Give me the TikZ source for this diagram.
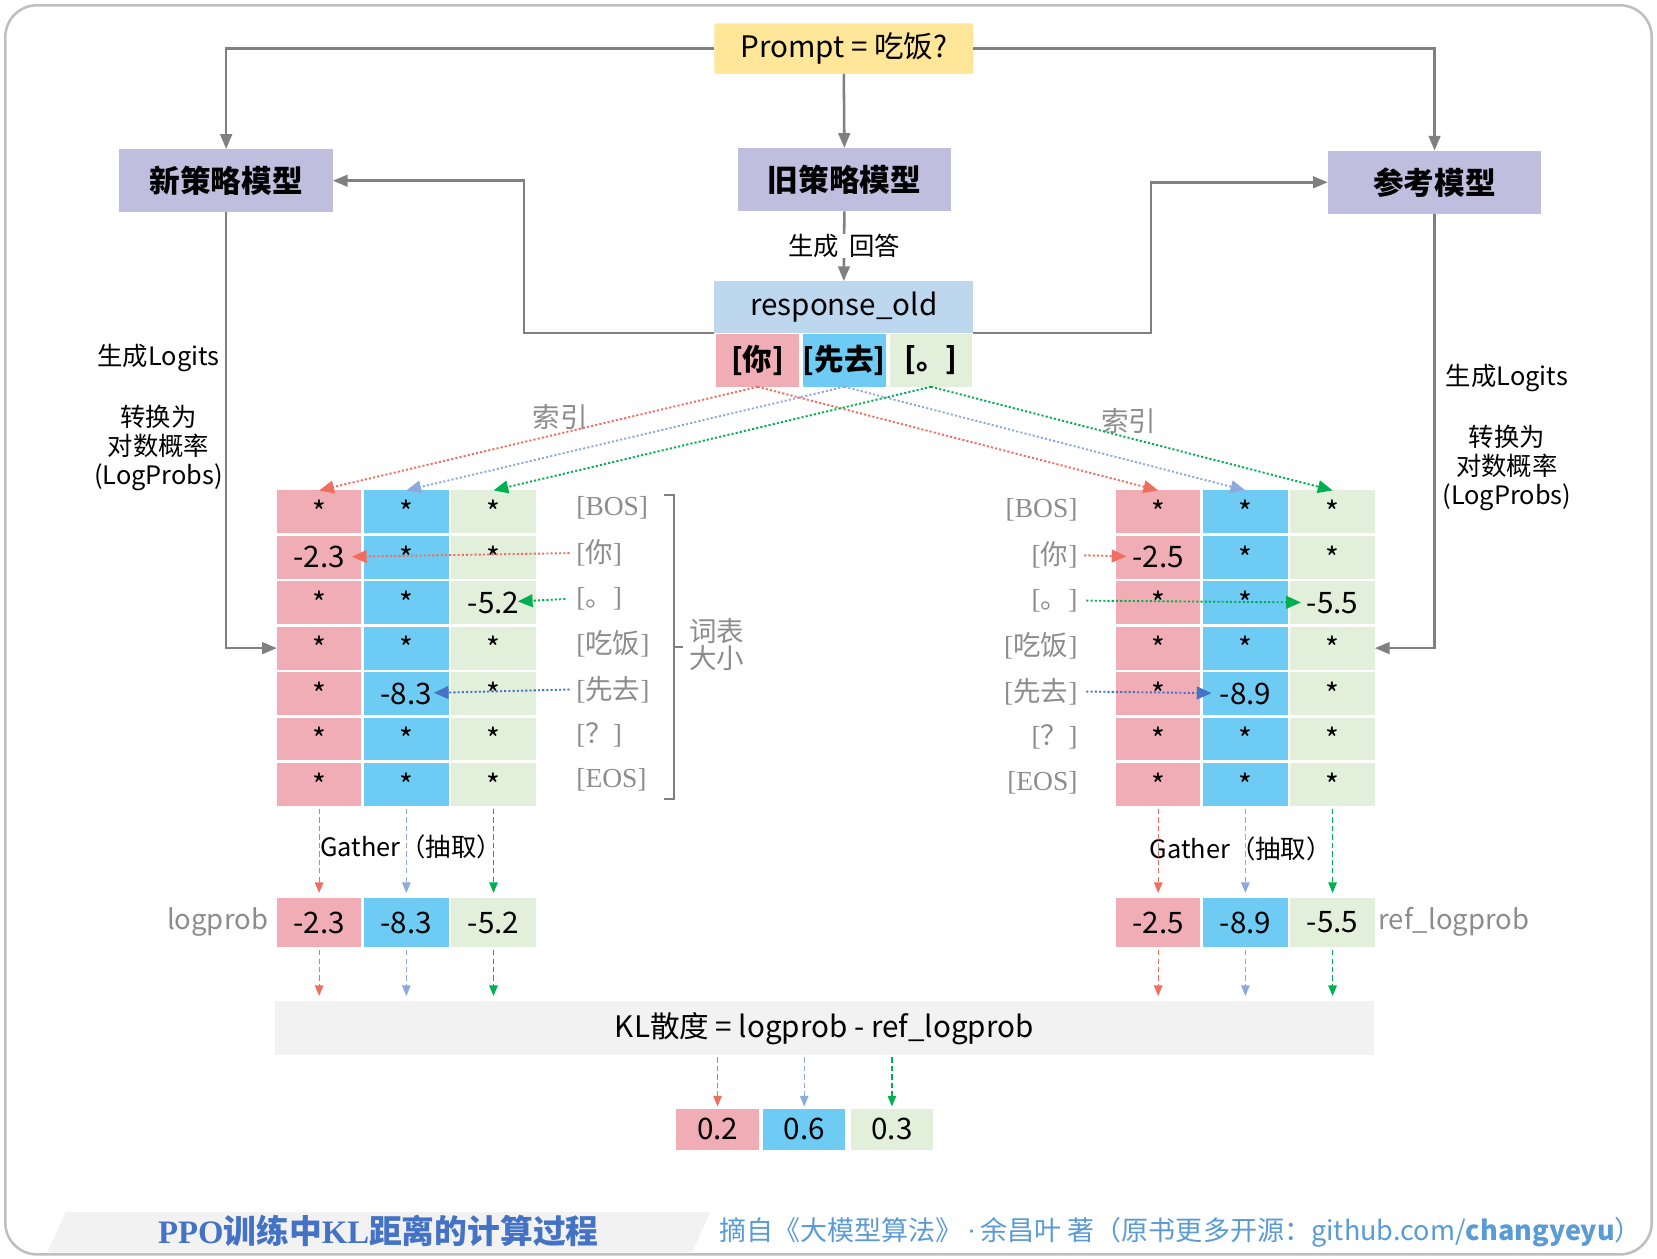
\documentclass[tikz,border=0pt]{standalone}
\usepackage{fontspec}
\setmainfont{Noto Sans CJK SC}
\newfontfamily\tokfont{Liberation Serif}
\usetikzlibrary{arrows.meta,positioning}

\definecolor{promptc}{RGB}{255,230,153}
\definecolor{modelc}{RGB}{192,190,223}
\definecolor{respc}{RGB}{189,215,238}
\definecolor{pinkc}{RGB}{240,173,182}
\definecolor{skyc}{RGB}{110,203,243}
\definecolor{leafc}{RGB}{226,239,218}
\definecolor{linec}{RGB}{128,128,128}
\definecolor{redarr}{RGB}{240,110,95}
\definecolor{bluearr}{RGB}{142,169,219}
\definecolor{greenarr}{RGB}{0,176,80}
\definecolor{deepblue}{RGB}{68,114,196}
\definecolor{tokgray}{RGB}{140,140,140}
\definecolor{footc}{RGB}{242,242,242}
\definecolor{linkc}{RGB}{91,155,213}

\newcommand{\fsize}[1]{\fontsize{#1}{#1}\selectfont}
\newcommand{\tokw}[1]{{\tokfont[#1]}}
\newcommand{\tokc}[1]{{\tokfont[}#1{\tokfont]}}

\begin{document}
\begin{tikzpicture}[x=0.5pt,y=-0.5pt,
    box/.style={inner sep=0pt,outer sep=0pt,align=center},
    model/.style={box,fill=modelc,minimum width=101pt,minimum height=30pt,font=\fsize{14.5}\bfseries},
    cell/.style={box,minimum width=40pt,minimum height=20.25pt,font=\fsize{14}},
    lpcell/.style={cell,minimum height=23pt},
    tokcell/.style={box,minimum width=39pt,minimum height=25pt,font=\fsize{14}\bfseries},
    toklabel/.style={inner sep=0pt,text=tokgray,font=\fsize{13}},
    note/.style={inner sep=0pt,align=center,font=\fsize{12}\linespread{1.15}\selectfont},
    graynote/.style={note,text=tokgray,font=\fsize{13}},
    conn/.style={draw=linec,line width=1.2pt,-{Triangle[length=7pt,width=5.5pt]}},
    idx/.style={line width=0.9pt,dash pattern=on 1pt off 1pt,-{Triangle[length=7pt,width=6pt]}},
    gath/.style={line width=0.6pt,dash pattern=on 2.5pt off 1.5pt,-{Triangle[length=5pt,width=4pt]}}]
  \useasboundingbox (0,0) rectangle (1568,1191);
  %% frame
  \draw[black!25,line width=1.2pt,rounded corners=15pt] (5,5) rectangle (1563,1187);

  %% models and prompt
  \node[box,fill=promptc,rounded corners=1pt,minimum width=122.5pt,minimum height=24pt,font=\fsize{14}] (prompt) at (798.5,46) {Prompt = 吃饭?};
  \node[model] (newm) at (214,171) {新策略模型};
  \node[model] (oldm) at (799,170) {旧策略模型};
  \node[model] (refm) at (1357.5,172.5) {参考模型};
  \node[box,fill=respc,minimum width=122.5pt,minimum height=24.5pt,font=\fsize{14}] (resp) at (798.5,290.5) {response\_old};
  \foreach \t/\x/\col/\txt in {1/717/pinkc/{[你]}, 2/799/skyc/{[先去]}, 3/881/leafc/{[。]}}
  {
    \node[tokcell,fill=\col] (tok\t) at (\x,341) {\txt};
  }

  \draw[conn] (prompt.west) -| (newm.north);
  \draw[conn] (prompt.south) -- (oldm.north);
  \draw[conn] (prompt.east) -| (refm.north);
  \draw[conn] (oldm.south) -- node[note,fill=white,inner xsep=0pt] {生成\hspace{5pt}回答} (resp.north);
  \draw[conn] (resp.south west) -- ++(-180,0) |- (newm.east);
  \draw[conn] (resp.south east) -- ++(168,0) |- (refm.west);

  %% logit tables
  \foreach \r/\a/\b/\c/\d/\e/\f in {1/*/*/*/*/*/*, 2/-2.3/*/*/-2.5/*/*, 3/*/*/-5.2/*/*/-5.5,
    4/*/*/*/*/*/*, 5/*/-8.3/*/*/-8.9/*, 6/*/*/*/*/*/*, 7/*/*/*/*/*/*}
  {
    \node[cell,fill=pinkc] (L-\r-1) at (302,{484.3+43*(\r-1)}) {\a};
    \node[cell,fill=skyc] (L-\r-2) at (384.5,{484.3+43*(\r-1)}) {\b};
    \node[cell,fill=leafc] (L-\r-3) at (467,{484.3+43*(\r-1)}) {\c};
    \node[cell,fill=pinkc] (R-\r-1) at (1096,{484.3+43*(\r-1)}) {\d};
    \node[cell,fill=skyc] (R-\r-2) at (1178.5,{484.3+43*(\r-1)}) {\e};
    \node[cell,fill=leafc] (R-\r-3) at (1261,{484.3+43*(\r-1)}) {\f};
  }
  \foreach \r/\t in {1/\tokw{BOS}, 2/\tokc{你}, 3/\tokc{。}, 4/\tokc{吃饭}, 5/\tokc{先去}, 6/\tokc{？}, 7/\tokw{EOS}}
  {
    \node[toklabel,anchor=west] (tkL\r) at (545,{480.3+43*(\r-1)}) {\t};
    \node[toklabel,anchor=east] (tkR\r) at (1020,{482.3+43*(\r-1)}) {\t};
  }
  \draw[linec,line width=1pt] (628,468) -- (638,468) -- (638,756) -- (628,756) (638,612) -- (646,612);
  \node[graynote,anchor=west,align=left] (vocab) at (652,610) {词表\\大小};

  \draw[conn] (newm.south) |- (L-4-1.west);
  \draw[conn] (refm.south) |- (R-4-3.east);
  \node[note] (logitL) at (150,339) {生成Logits};
  \node[note] (convL) at (150,424) {转换为\\对数概率\\(LogProbs)};
  \node[note] (logitR) at (1426,358) {生成Logits};
  \node[note] (convR) at (1426,443) {转换为\\对数概率\\(LogProbs)};

  %% index arrows
  \node[graynote] (idxL) at (530,395) {索引};
  \node[graynote] (idxR) at (1068,398) {索引};
  \foreach \t/\col in {1/redarr, 2/bluearr, 3/greenarr}
  {
    \draw[idx,\col] (tok\t.south) -- (L-1-\t.north);
    \draw[idx,\col] (tok\t.south) -- (R-1-\t.north);
  }
  \draw[idx,redarr,shorten <=3pt,shorten >=15.5pt] (tkL2.west) -- (L-2-1.center);
  \draw[idx,greenarr,shorten <=5pt,shorten >=11.5pt] (tkL3.west) -- (L-3-3.center);
  \draw[idx,deepblue,shorten <=3pt,shorten >=13pt] (tkL5.west) -- (L-5-2.center);
  \draw[idx,redarr,shorten <=3pt,shorten >=15pt] (tkR2.east) -- (R-2-1.center);
  \draw[idx,greenarr,shorten <=4pt,shorten >=15pt] (tkR3.east) -- (R-3-3.center);
  \draw[idx,deepblue,shorten <=4pt,shorten >=16pt] (tkR5.east) -- (R-5-2.center);

  %% gather
  \foreach \c/\x/\y/\u/\v/\col in {1/302/1096/-2.3/-2.5/pinkc, 2/384.5/1178.5/-8.3/-8.9/skyc, 3/467/1261/-5.2/-5.5/leafc}
  {
    \node[lpcell,fill=\col] (lp-\c) at (\x,873) {\u};
    \node[lpcell,fill=\col] (rp-\c) at (\y,873) {\v};
  }
  \node[note] (gathL) at (389,801) {Gather（抽取）};
  \node[note] (gathR) at (1174,803) {Gather（抽取）};
  \node[graynote,anchor=east] (lplabel) at (254,872) {logprob};
  \node[graynote,anchor=west] (rplabel) at (1304,872) {ref\_logprob};

  \node[box,fill=footc,minimum width=520pt,minimum height=25.5pt,font=\fsize{14}] (kl) at (780,973) {KL散度 = logprob - ref\_logprob};
  \foreach \c/\x/\v/\col in {1/679/0.2/pinkc, 2/761/0.6/skyc, 3/844/0.3/leafc}
  {
    \node[cell,fill=\col,minimum width=39pt,minimum height=19.5pt] (res-\c) at (\x,1068.5) {\v};
  }
  \foreach \c/\col in {1/redarr, 2/bluearr, 3/greenarr}
  {
    \draw[gath,\col,shorten <=1.5pt,shorten >=2.5pt] (L-7-\c.south) -- (lp-\c.north);
    \draw[gath,\col,shorten <=1.5pt,shorten >=2.5pt] (R-7-\c.south) -- (rp-\c.north);
    \draw[gath,\col,shorten <=1.5pt,shorten >=2.5pt] (lp-\c.south) -- (lp-\c.south |- kl.north);
    \draw[gath,\col,shorten <=1.5pt,shorten >=2.5pt] (rp-\c.south) -- (rp-\c.south |- kl.north);
    \draw[gath,\col,shorten <=1pt,shorten >=1pt] (kl.south -| res-\c.north) -- (res-\c.north);
  }

  %% footer
  \fill[footc] (62,1147) -- (672,1147) -- (655,1185) -- (45,1185) -- cycle;
  \node[inner sep=0pt,text=deepblue,font=\fsize{15.5}\bfseries] (title) at (358,1165) {{\tokfont PPO}训练中{\tokfont KL}距离的计算过程};
  \node[inner sep=0pt,anchor=west,text=linkc,font=\fsize{12.8}] (source) at (680,1166) {摘自《大模型算法》{\tokfont\,·\,}余昌叶 著（原书更多开源：github.com/\textbf{changyeyu}）};
\end{tikzpicture}
\end{document}
